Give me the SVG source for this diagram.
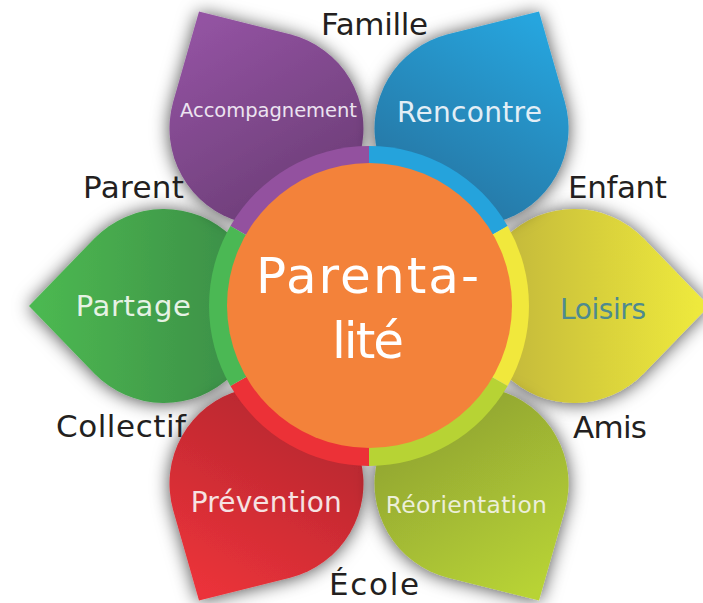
<svg xmlns="http://www.w3.org/2000/svg" width="703" height="603" viewBox="0 0 703 603">
<defs>
<filter id="sh" x="-30%" y="-30%" width="160%" height="160%">
<feGaussianBlur in="SourceAlpha" stdDeviation="9"/>
<feOffset dx="0" dy="1" result="b"/>
<feFlood flood-color="#000" flood-opacity="0.7"/>
<feComposite in2="b" operator="in"/>
<feMerge><feMergeNode/><feMergeNode in="SourceGraphic"/></feMerge>
</filter>
<path id="petal" d="M340 0 L274.7 -67.5 A97 97 0 1 0 274.7 67.5 Z"/>
<linearGradient id="gPurple" gradientUnits="userSpaceOnUse" x1="130" y1="0" x2="330" y2="0"><stop offset="0" stop-color="#6f3f7a"/><stop offset="1" stop-color="#9353a2"/></linearGradient>
<linearGradient id="gBlue" gradientUnits="userSpaceOnUse" x1="130" y1="0" x2="330" y2="0"><stop offset="0" stop-color="#2678a6"/><stop offset="1" stop-color="#25a5de"/></linearGradient>
<linearGradient id="gYellow" gradientUnits="userSpaceOnUse" x1="130" y1="0" x2="330" y2="0"><stop offset="0" stop-color="#c3b83a"/><stop offset="1" stop-color="#eee93c"/></linearGradient>
<linearGradient id="gLime" gradientUnits="userSpaceOnUse" x1="130" y1="0" x2="330" y2="0"><stop offset="0" stop-color="#92a632"/><stop offset="1" stop-color="#b8d336"/></linearGradient>
<linearGradient id="gRed" gradientUnits="userSpaceOnUse" x1="130" y1="0" x2="330" y2="0"><stop offset="0" stop-color="#b9282f"/><stop offset="1" stop-color="#eb323a"/></linearGradient>
<linearGradient id="gGreen" gradientUnits="userSpaceOnUse" x1="130" y1="0" x2="330" y2="0"><stop offset="0" stop-color="#3c8f47"/><stop offset="1" stop-color="#4cb851"/></linearGradient>
<style>
.lbl{font-family:"DejaVu Sans",sans-serif;fill:#231f20;font-size:31px;text-anchor:middle}
.pl{font-family:"DejaVu Sans",sans-serif;text-anchor:middle}
.ctr{font-family:"DejaVu Sans",sans-serif;fill:#fff;font-size:50px;text-anchor:middle}
</style>
</defs>
<rect width="703" height="603" fill="#fff"/>
<g id="petal-partage" filter="url(#sh)"><use href="#petal" transform="translate(369 306) rotate(180)" fill="url(#gGreen)"/></g>
<g id="petal-loisirs" filter="url(#sh)"><use href="#petal" transform="translate(369 306) rotate(0)" fill="url(#gYellow)"/></g>
<g id="petal-accompagnement" filter="url(#sh)"><use href="#petal" transform="translate(369 306) rotate(240)" fill="url(#gPurple)"/></g>
<g id="petal-rencontre" filter="url(#sh)"><use href="#petal" transform="translate(369 306) rotate(300)" fill="url(#gBlue)"/></g>
<g id="petal-prevention" filter="url(#sh)"><use href="#petal" transform="translate(369 306) rotate(120)" fill="url(#gRed)"/></g>
<g id="petal-reorientation" filter="url(#sh)"><use href="#petal" transform="translate(369 306) rotate(60)" fill="url(#gLime)"/></g>
<g id="ring">
<path d="M369 306 L230.44 226 A160 160 0 0 1 369 146 Z" fill="#93519f"/>
<path d="M369 306 L369 146 A160 160 0 0 1 507.56 226 Z" fill="#25a3dc"/>
<path d="M369 306 L507.56 226 A160 160 0 0 1 507.56 386 Z" fill="#f1e83c"/>
<path d="M369 306 L507.56 386 A160 160 0 0 1 369 466 Z" fill="#b7d334"/>
<path d="M369 306 L369 466 A160 160 0 0 1 230.44 386 Z" fill="#ec3137"/>
<path d="M369 306 L230.44 386 A160 160 0 0 1 230.44 226 Z" fill="#4bb854"/>
</g>
<g id="center">
<circle cx="369.5" cy="305.5" r="142.5" fill="#f3823a"/>
<text class="ctr" x="367.5" y="293" textLength="223">Parenta-</text>
<text class="ctr" x="368" y="358" textLength="72">lité</text>
</g>
<g id="petal-labels">
<text class="pl" x="268.5" y="116.7" font-size="19.5" fill="#ece3f0" textLength="177">Accompagnement</text>
<text class="pl" x="469.5" y="121.5" font-size="28" fill="#e2eef6" textLength="145">Rencontre</text>
<text class="pl" x="133.3" y="316" font-size="29" fill="#e6f2e4" textLength="115">Partage</text>
<text class="pl" x="603" y="319.3" font-size="28" fill="#4e8a8f" textLength="86">Loisirs</text>
<text class="pl" x="266.2" y="512.3" font-size="28" fill="#f6e2e2" textLength="151">Prévention</text>
<text class="pl" x="466.3" y="512.7" font-size="23.4" fill="#ecefd9" textLength="161">Réorientation</text>
</g>
<g id="outer-labels">
<text class="lbl" x="374.5" y="35" textLength="107">Famille</text>
<text class="lbl" x="133.5" y="198" textLength="101">Parent</text>
<text class="lbl" x="617.5" y="198" textLength="99">Enfant</text>
<text class="lbl" x="121" y="437" font-size="32" textLength="130">Collectif</text>
<text class="lbl" x="374" y="595" font-size="33" textLength="90">École</text>
<text class="lbl" x="610" y="438" textLength="74">Amis</text>
</g>
</svg>
